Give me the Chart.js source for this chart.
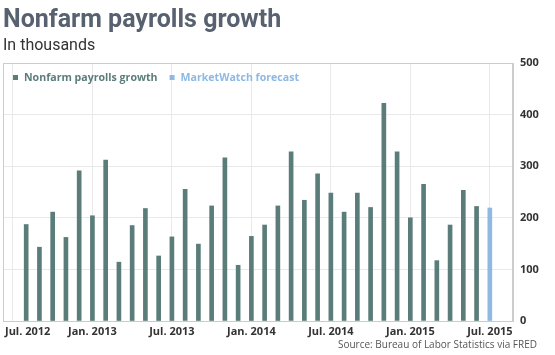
<!DOCTYPE html>
<html>
<head>
<meta charset="utf-8">
<script src="https://cdn.jsdelivr.net/npm/chart.js@4"></script>
<style>
  html, body { margin: 0; padding: 0; background: #ffffff; }
  #wrap { width: 555px; height: 355px; }
</style>
</head>
<body>
<div id="wrap"><canvas id="c" width="555" height="355"></canvas></div>
<script>
// ---- Data ----
const categories = [
  'Jul 2012','Aug 2012','Sep 2012','Oct 2012','Nov 2012','Dec 2012',
  'Jan 2013','Feb 2013','Mar 2013','Apr 2013','May 2013','Jun 2013',
  'Jul 2013','Aug 2013','Sep 2013','Oct 2013','Nov 2013','Dec 2013',
  'Jan 2014','Feb 2014','Mar 2014','Apr 2014','May 2014','Jun 2014',
  'Jul 2014','Aug 2014','Sep 2014','Oct 2014','Nov 2014','Dec 2014',
  'Jan 2015','Feb 2015','Mar 2015','Apr 2015','May 2015','Jun 2015',
  'Jul 2015'
];
const payrolls = [
  null, 187, 143, 211, 162, 291,
  204, 312, 114, 185, 218, 126,
  163, 255, 149, 223, 316, 108,
  164, 186, 223, 328, 234, 285,
  248, 211, 248, 220, 422, 328,
  200, 265, 117, 186, 253, 222,
  null
];
const forecast = [
  null, null, null, null, null, null,
  null, null, null, null, null, null,
  null, null, null, null, null, null,
  null, null, null, null, null, null,
  null, null, null, null, null, null,
  null, null, null, null, null, null,
  219
];
const xTickLabels = ['Jul. 2012','Jan. 2013','Jul. 2013','Jan. 2014','Jul. 2014','Jan. 2015','Jul. 2015'];
const xTickCategories = ['Jul 2012','Jan 2013','Jul 2013','Jan 2014','Jul 2014','Jan 2015','Jul 2015'];
const yTicks = [0, 100, 200, 300, 400, 500];
const seriesNames = ['Nonfarm payrolls growth', 'MarketWatch forecast'];
const titleText = 'Nonfarm payrolls growth';
const subtitleText = 'In thousands';
const sourceText = 'Source: Bureau of Labor Statistics via FRED';

const TEAL = '#5b7d7a';
const BLUE = '#8db9e2';
const GRID = '#e9e9e9';
const FRAME = '#cccccc';

const toPoints = arr => arr.map((v, i) => ({ x: i, y: v })).filter(p => p.y !== null);
const xTickValues = xTickCategories.map(c => categories.indexOf(c));

// legend, frame, x labels and source drawn on the chart canvas
const extras = {
  id: 'extras',
  afterDraw(chart) {
    const ctx = chart.ctx;
    const a = chart.chartArea;
    const xs = chart.scales.x;
    ctx.save();
    // frame around plot
    ctx.strokeStyle = FRAME;
    ctx.lineWidth = 1;
    ctx.strokeRect(Math.round(a.left) + 0.5, Math.round(a.top) + 0.5,
                   Math.round(a.right - a.left) - 1, Math.round(a.bottom - a.top));
    // legend inside plot
    ctx.font = 'bold 10.6px "Open Sans"';
    ctx.textBaseline = 'middle';
    ctx.textAlign = 'left';
    let lx = a.left + 10;
    const ly = 77.5;
    chart.data.datasets.forEach((ds, i) => {
      ctx.fillStyle = ds.backgroundColor;
      ctx.fillRect(lx, ly - 2.5, 5, 5);
      lx += 11;
      ctx.fillText(ds.label, lx, ly);
      lx += ctx.measureText(ds.label).width + 12;
    });
    // x tick labels
    ctx.fillStyle = '#333333';
    ctx.font = 'bold 11px "Open Sans"';
    ctx.textBaseline = 'middle';
    xTickLabels.forEach((lab, i) => {
      const px = xs.getPixelForValue(xTickValues[i]);
      const w = ctx.measureText(lab).width;
      let left = px - w / 2;
      if (left < 5) left = 5;
      ctx.fillText(lab, left, 332);
    });
    // source
    ctx.font = '10px "Open Sans"';
    ctx.fillStyle = '#555555';
    ctx.textAlign = 'right';
    ctx.fillText(sourceText, 537, 345);
    ctx.restore();
  }
};

new Chart(document.getElementById('c'), {
  type: 'bar',
  data: {
    datasets: [
      { label: seriesNames[0], data: toPoints(payrolls), backgroundColor: TEAL, borderWidth: 0 },
      { label: seriesNames[1], data: toPoints(forecast), backgroundColor: BLUE, borderWidth: 0 }
    ]
  },
  options: {
    responsive: false,
    animation: false,
    devicePixelRatio: 1,
    layout: { padding: { left: 3, right: 0, top: 0, bottom: 0 } },
    datasets: { bar: { grouped: false, barThickness: 4 } },
    plugins: {
      legend: { display: false },
      tooltip: { enabled: false },
      title: {
        display: true, text: titleText, align: 'start', color: '#586170',
        font: { family: 'Roboto', size: 25, weight: 'bold', lineHeight: 1.2 },
        padding: { top: 6, bottom: 0 }
      },
      subtitle: {
        display: true, text: subtitleText, align: 'start', color: '#333333',
        font: { family: 'Roboto', size: 16, weight: 'normal', lineHeight: 1.2 },
        padding: { top: 0, bottom: 7.8 }
      }
    },
    scales: {
      x: {
        type: 'linear',
        offset: false,
        min: -0.75,
        max: categories.length + 0.75,
        afterBuildTicks: s => { s.ticks = xTickValues.map(v => ({ value: v })); },
        afterFit: s => { s.height = 34; },
        ticks: { display: false },
        grid: { color: GRID, drawTicks: false, offset: false },
        border: { display: true, color: FRAME }
      },
      y: {
        position: 'right',
        min: 0, max: 500,
        afterBuildTicks: s => { s.ticks = yTicks.map(v => ({ value: v })); },
        afterFit: s => { s.width = 42; },
        ticks: {
          color: '#333333', padding: 7,
          font: { family: 'Open Sans', size: 11, weight: 'bold' }
        },
        grid: { color: GRID, drawTicks: false },
        border: { display: true, color: FRAME }
      }
    }
  },
  plugins: [extras]
});
</script>
</body>
</html>
